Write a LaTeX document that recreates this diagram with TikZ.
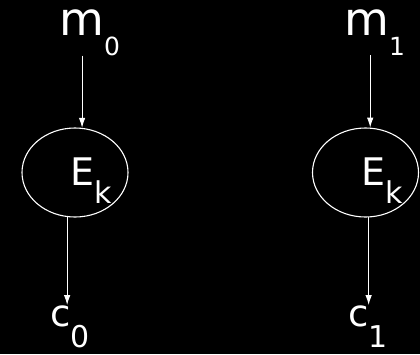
\documentclass[tikz,border=0pt]{standalone}
\usepackage{fontspec}
\setmainfont{DejaVu Sans}
\usetikzlibrary{shapes.geometric,arrows.meta}
\newcommand{\lowsub}[3]{\raisebox{-#1}{\fontsize{#2}{#2}\selectfont #3}}
\begin{document}
\begin{tikzpicture}[x=1pt, y=-1pt, >={Latex[length=10pt,width=6.5pt]},
    every node/.style={text=white, inner sep=0pt},
    enc/.style={draw=white, ellipse, line width=1.1pt, minimum width=106pt, minimum height=89pt},
    msg/.style={anchor=base west, font=\fontsize{46}{46}\selectfont},
    key/.style={anchor=base west, font=\fontsize{38}{38}\selectfont},
    ctx/.style={anchor=base west, font=\fontsize{37}{37}\selectfont},
    link/.style={draw=white, line width=1pt, ->}]
    \fill[black] (0,0) rectangle (420,354);
    % left branch
    \node[enc] (E0) at (75,172.5) {};
    \node[key] (k0) at (70,185) {E\lowsub{18pt}{30}{k}};
    \node[msg] (m0) at (59,35) {m\lowsub{20pt}{25}{0}};
    \node[ctx] (c0) at (50,326) {c\lowsub{21pt}{30}{0}};
    % right branch
    \node[enc] (E1) at (365.5,172.5) {};
    \node[key] (k1) at (361,185) {E\lowsub{18pt}{30}{k}};
    \node[msg] (m1) at (344,35) {m\lowsub{20pt}{25}{1}};
    \node[ctx] (c1) at (348,326) {c\lowsub{21pt}{30}{1}};
    \draw[link] (E0.81 |- m0.south) -- (E0.81);
    \draw[link] (E0.260) -- (E0.260 |- c0.north);
    \draw[link] (E1.84 |- m1.south) -- (E1.84);
    \draw[link] (E1.274) -- (E1.274 |- c1.north);
\end{tikzpicture}
\end{document}
